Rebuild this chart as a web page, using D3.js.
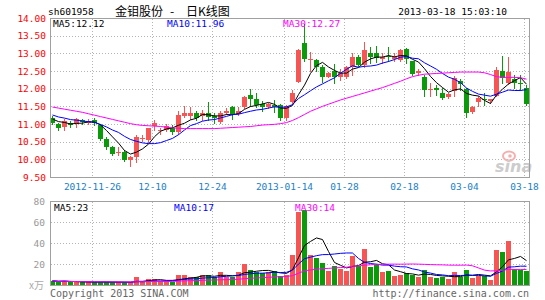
<!DOCTYPE html>
<html>
<head>
<meta charset="utf-8">
<script src="https://cdn.jsdelivr.net/npm/d3@7"></script>
<style>
  body { margin: 0; background: #fff; }
  svg { display: block; }
  text { font-family: "DejaVu Sans Mono", "Liberation Mono", monospace; }
</style>
</head>
<body>
<script>
// trading days 2012-11-15 .. 2013-03-18
const dates = [
  "11-15","11-16","11-19","11-20","11-21","11-22","11-23","11-26","11-27","11-28","11-29","11-30",
  "12-03","12-04","12-05","12-06","12-07","12-10","12-11","12-12","12-13","12-14","12-17","12-18",
  "12-19","12-20","12-21","12-24","12-25","12-26","12-27","12-28","12-31",
  "01-04","01-07","01-08","01-09","01-10","01-11","01-14","01-15","01-16","01-17","01-18","01-21",
  "01-22","01-23","01-24","01-25","01-28","01-29","01-30","01-31",
  "02-01","02-04","02-05","02-06","02-07","02-08","02-18","02-19","02-20","02-21","02-22","02-25",
  "02-26","02-27","02-28",
  "03-01","03-04","03-05","03-06","03-07","03-08","03-11","03-12","03-13","03-14","03-15","03-18"
];
const open = [11.17,11.00,10.91,11.04,11.00,11.11,11.04,11.10,10.96,10.57, 10.34,10.17,10.21,9.98,10.06,10.58,10.55,10.94,10.81,10.82,
  10.88,10.76,11.24,11.24,11.31,11.22,11.30,11.24,11.07,11.32, 11.47,11.29,11.48,11.82,11.71,11.57,11.49,11.55,11.55,11.17,
  11.62,12.20,13.28,12.80,12.80,12.62,12.34,12.50,12.34,12.34, 12.62,12.91,12.68,13.00,13.02,12.85,12.93,12.85,12.80,13.12,
  12.77,12.44,12.34,11.97,12.01,11.89,11.76,11.92,12.23,11.99, 11.33,11.61,11.72,11.64,11.80,12.50,12.16,12.27,12.15,12.01];
const high = [11.22,11.03,11.15,11.08,11.17,11.14,11.13,11.17,11.00,10.62, 10.39,10.35,10.27,10.10,10.70,10.68,10.90,11.10,10.90,11.00,
  10.98,11.38,11.50,11.48,11.37,11.40,11.62,11.30,11.38,11.45, 11.50,11.47,11.80,12.00,11.87,11.64,11.60,11.68,11.58,11.55,
  11.95,13.12,13.82,13.03,12.83,12.68,12.48,12.69,12.55,12.64, 13.00,12.95,13.33,13.19,13.21,13.00,13.19,13.00,13.12,13.15,
  12.79,12.55,12.39,12.16,12.11,12.01,11.88,12.35,12.28,12.01, 11.50,11.80,11.87,11.72,12.62,12.92,12.91,12.39,12.40,12.10];
const low = [11.00,10.82,10.82,10.92,10.92,11.01,11.00,10.98,10.54,10.30, 10.12,10.12,9.94,9.80,9.93,10.52,10.50,10.83,10.73,10.79,
  10.73,10.72,11.20,11.15,11.12,11.12,11.12,11.04,11.04,11.28, 11.15,11.25,11.45,11.52,11.48,11.36,11.44,11.35,11.12,11.12,
  11.58,12.18,12.78,12.50,12.50,12.20,12.32,12.15,12.25,12.30, 12.40,12.65,12.62,12.72,12.76,12.72,12.77,12.78,12.78,12.72,
  12.40,12.40,11.80,11.80,11.82,11.70,11.74,11.80,11.96,11.21, 11.30,11.52,11.55,11.60,11.78,12.16,12.12,12.01,11.96,11.55];
const close = [11.02,10.89,11.08,10.96,11.14,11.05,11.09,11.02,10.57,10.35, 10.15,10.21,9.97,10.07,10.62,10.61,10.88,11.02,10.84,10.95,
  10.76,11.25,11.31,11.31,11.18,11.30,11.20,11.16,11.30,11.38, 11.27,11.36,11.76,11.70,11.54,11.48,11.57,11.49,11.17,11.51,
  11.89,13.10,12.83,12.83,12.62,12.34,12.45,12.34,12.45,12.62, 12.91,12.67,13.10,12.91,12.88,12.91,12.89,12.91,13.10,12.83,
  12.42,12.51,11.97,12.00,11.95,11.73,11.85,12.30,12.14,11.31, 11.48,11.73,11.68,11.70,12.52,12.30,12.46,12.16,12.13,11.58];
// closes of the 9 days before the window (for MA5 / MA10)
const priorClose = [11.45,11.40,11.38,11.30,11.32,11.25,11.20,11.18,11.05];
// MA30
const ma30 = [11.48,11.45,11.42,11.39,11.36,11.33,11.29,11.25,11.21,11.17, 11.13,11.09,11.05,11.01,10.98,10.96,10.95,10.94,10.93,10.91,
  10.89,10.88,10.87,10.87,10.87,10.87,10.87,10.87,10.88,10.89, 10.90,10.91,10.92,10.93,10.95,10.97,10.98,10.99,11.01,11.04,
  11.10,11.18,11.27,11.36,11.43,11.50,11.56,11.62,11.68,11.73, 11.78,11.83,11.88,11.93,11.98,12.03,12.09,12.15,12.21,12.28,
  12.34,12.38,12.41,12.42,12.43,12.44,12.45,12.46,12.47,12.47, 12.47,12.47,12.45,12.40,12.34,12.32,12.32,12.32,12.31,12.27];
// volume, x10k shares
const volume = [4,3,4,2.5,3,2.5,2.5,2.5,3,3, 2.5,2.5,2.5,2.5,7.5,2.5,6,5.5,4,4,
  2.5,9.5,9.5,7.5,7.5,9.5,9.5,7.5,12,7.5, 7.5,12,20,14,12,11,12.5,13.3,8.9,9.5,
  28.5,70,71,28.5,26,21,13.3,18.4,15.2,13.3, 28,18,34,17.4,19.7,12,13.3,8.9,9.5,11,
  10,7.6,14,7.6,6.3,8,5.7,12,8,14, 7,9,9,4.5,33,31.5,42,15.5,14,13];

const tickDates = ["11-26","12-10","12-24","01-14","01-28","02-18","03-04","03-18"];
const tickLabels = ["2012-11-26","12-10","12-24","2013-01-14","01-28","02-18","03-04","03-18"];
const priceTicks = [14,13.5,13,12.5,12,11.5,11,10.5,10,9.5];
const volTicks = [80,60,40,20];
const maLabels = ["MA5:12.12","MA10:11.96","MA30:12.27"];
const volMaLabels = ["MA5:23","MA10:17","MA30:14"];

const W = 545, H = 300;
const RED = "#f75454", GREEN = "#0a9a0a", GRID = "#b4b4b4", BORDER = "#a0a0a0";
const maColors = ["#000000", "#0000ff", "#ff00ff"];

const svg = d3.select("body").append("svg").attr("width", W).attr("height", H);
svg.append("rect").attr("width", W).attr("height", H).attr("fill", "#fff");

const x = d3.scaleBand().domain(dates).range([50, 530]);
const y = d3.scaleLinear().domain([9.5, 14]).range([177, 18]);
const yv = d3.scaleLinear().domain([0, 80]).range([285, 201]);
const cx = i => x(dates[i]) + 2.5;
const up = i => close[i] >= open[i];

// moving averages
const allClose = priorClose.concat(close);
const P = priorClose.length;
const maN = n => close.map((c, i) => d3.mean(allClose.slice(i + P - n + 1, i + P + 1)));
const priceMA = [maN(5), maN(10), ma30];
const volMaN = n => volume.map((v, i) => d3.mean(volume.slice(Math.max(0, i - n + 1), i + 1)));
const volMA = [volMaN(5), volMaN(10), volMaN(30)];

// header
svg.append("text").attr("x", 48).attr("y", 14.5).attr("font-size", 9.5).text("sh601958");
svg.append("text").attr("y", 15.5).attr("font-size", 12)
  .style("font-family", "'Noto Sans CJK SC', sans-serif")
  .selectAll("tspan").data([[115, "金钼股份"], [170, "-"], [186, "日K线图"]]).join("tspan")
  .attr("x", d => d[0]).text(d => d[1]);
svg.append("text").attr("x", 507).attr("y", 14.5).attr("font-size", 9.5)
  .attr("text-anchor", "end").text("2013-03-18 15:03:10");

// grids
const g = svg.append("g").attr("stroke", GRID).attr("stroke-dasharray", "1,2").attr("shape-rendering", "crispEdges");
g.selectAll(".hp").data(priceTicks.slice(1, -1)).join("line")
  .attr("x1", 51).attr("x2", 529).attr("y1", d => Math.round(y(d)) + 0.5).attr("y2", d => Math.round(y(d)) + 0.5);
g.selectAll(".hv").data(volTicks.slice(1)).join("line").attr("class", "hv")
  .attr("x1", 51).attr("x2", 529).attr("y1", d => Math.round(yv(d)) + 0.5).attr("y2", d => Math.round(yv(d)) + 0.5);
g.selectAll(".vp").data(tickDates).join("line").attr("class", "vp")
  .attr("x1", d => x(d) + 0.5).attr("x2", d => x(d) + 0.5).attr("y1", 19).attr("y2", 177);
g.selectAll(".vv").data(tickDates).join("line").attr("class", "vv")
  .attr("x1", d => x(d) + 0.5).attr("x2", d => x(d) + 0.5).attr("y1", 202).attr("y2", 285);

// sina watermark
const wm = svg.append("g");
wm.append("ellipse").attr("cx", 509).attr("cy", 156).attr("rx", 6).attr("ry", 4.5)
  .attr("fill", "none").attr("stroke", "#f4b0b0").attr("stroke-width", 2);
wm.append("circle").attr("cx", 510).attr("cy", 156).attr("r", 1.8).attr("fill", "#f4b0b0");
wm.append("text").attr("x", 495).attr("y", 172).attr("font-size", 16).attr("font-weight", "bold")
  .attr("font-style", "italic").attr("fill", "#cccccc").style("font-family", "'DejaVu Sans', sans-serif").text("sina");

// candles
const idx = d3.range(dates.length);
const cg = svg.append("g").attr("shape-rendering", "crispEdges");
cg.selectAll("line").data(idx).join("line")
  .attr("x1", cx).attr("x2", cx)
  .attr("y1", i => Math.round(y(high[i]))).attr("y2", i => Math.round(y(low[i])) + 1)
  .attr("stroke", i => up(i) ? RED : GREEN);
cg.selectAll("rect").data(idx).join("rect")
  .attr("x", i => x(dates[i])).attr("width", x.bandwidth() - 1)
  .attr("y", i => Math.round(y(Math.max(open[i], close[i]))))
  .attr("height", i => Math.max(1, Math.round(y(Math.min(open[i], close[i]))) - Math.round(y(Math.max(open[i], close[i])))))
  .attr("fill", i => up(i) ? RED : GREEN);

// volume bars
svg.append("g").attr("shape-rendering", "crispEdges").selectAll("rect").data(idx).join("rect")
  .attr("x", i => x(dates[i])).attr("width", x.bandwidth() - 1)
  .attr("y", i => Math.round(yv(volume[i]))).attr("height", i => 285 - Math.round(yv(volume[i])))
  .attr("fill", i => up(i) ? RED : GREEN);

// MA lines
priceMA.forEach((arr, k) => {
  svg.append("path").datum(arr)
    .attr("d", d3.line().x((d, i) => cx(i)).y(d => y(d)))
    .attr("fill", "none").attr("stroke", maColors[k]).attr("stroke-width", 1);
});
volMA.forEach((arr, k) => {
  svg.append("path").datum(arr)
    .attr("d", d3.line().x((d, i) => cx(i)).y(d => yv(d)))
    .attr("fill", "none").attr("stroke", maColors[k]).attr("stroke-width", 1);
});

// frames
svg.append("rect").attr("x", 50.5).attr("y", 18.5).attr("width", 479).attr("height", 159)
  .attr("fill", "none").attr("stroke", BORDER);
svg.append("rect").attr("x", 50.5).attr("y", 201.5).attr("width", 479).attr("height", 84)
  .attr("fill", "none").attr("stroke", BORDER);

// MA labels
svg.selectAll(".mal").data(maLabels).join("text").attr("class", "mal")
  .attr("x", (d, i) => [53, 167, 283][i]).attr("y", 27).attr("font-size", 9.5)
  .attr("fill", (d, i) => maColors[i]).text(d => d);
svg.selectAll(".vmal").data(volMaLabels).join("text").attr("class", "vmal")
  .attr("x", (d, i) => [54, 174, 295][i]).attr("y", 210.5).attr("font-size", 9.5)
  .attr("fill", (d, i) => maColors[i]).text(d => d);

// axes labels
svg.selectAll(".yl").data(priceTicks).join("text").attr("class", "yl")
  .attr("x", 46).attr("y", d => y(d) + 3.5).attr("text-anchor", "end")
  .attr("font-size", 9.5).attr("fill", "#ff0000").text(d => d.toFixed(2));
svg.selectAll(".vl").data(volTicks).join("text").attr("class", "vl")
  .attr("x", 45).attr("y", d => yv(d) + 3.5).attr("text-anchor", "end")
  .attr("font-size", 9.5).attr("fill", "#999").text(d => d);
svg.append("text").attr("x", 29).attr("y", 288.5).attr("font-size", 10).attr("fill", "#aaa")
  .style("font-family", "'Noto Sans CJK SC', sans-serif").text("x万");
svg.selectAll(".xl").data(tickDates).join("text").attr("class", "xl")
  .attr("x", d => x(d) + 0.5).attr("y", 189.5).attr("text-anchor", "middle")
  .attr("font-size", 9.5).attr("fill", "#1a80c8").text((d, i) => tickLabels[i]);

// footer
svg.append("text").attr("x", 50).attr("y", 297).attr("font-size", 10).attr("fill", "#666")
  .text("Copyright 2013 SINA.COM");
svg.append("text").attr("x", 529).attr("y", 297).attr("font-size", 10).attr("fill", "#666")
  .attr("text-anchor", "end").text("http://finance.sina.com.cn");
</script>
</body>
</html>
